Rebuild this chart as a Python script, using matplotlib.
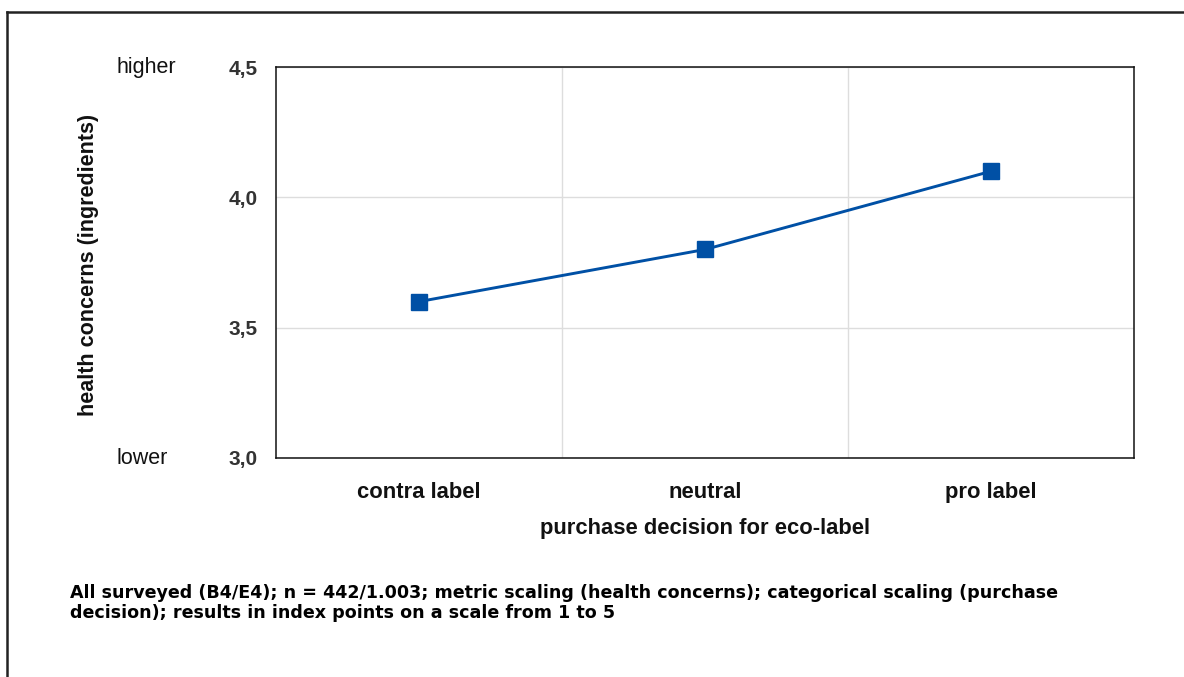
import matplotlib
matplotlib.use("Agg")
import matplotlib.pyplot as plt
from matplotlib.lines import Line2D

# data
categories = ["contra label", "neutral", "pro label"]
health_concerns = [3.6, 3.8, 4.1]
y_ticks = [3.0, 3.5, 4.0, 4.5]
y_tick_labels = ["3,0", "3,5", "4,0", "4,5"]

plt.rcParams['font.family'] = ['Liberation Sans', 'DejaVu Sans']

fig = plt.figure(figsize=(11.84, 6.77), dpi=100)
ax = fig.add_axes([0.2331, 0.3235, 0.7247, 0.5775])

x = list(range(len(categories)))
ax.plot(x, health_concerns, color='#0050A5', linewidth=2.1,
        marker='s', markersize=11.5, markerfacecolor='#0050A5',
        markeredgecolor='#0050A5', zorder=3)

ax.set_xlim(-0.5, len(categories) - 0.5)
ax.set_ylim(3.0, 4.5)
ax.set_yticks(y_ticks)
ax.set_yticklabels(y_tick_labels, fontsize=15, fontweight='bold', color='#333333')
ax.set_xticks(x)
ax.set_xticklabels(categories, fontsize=15.8, fontweight='bold', color='#111111')
ax.tick_params(axis='both', length=0)
ax.tick_params(axis='y', pad=13)
ax.tick_params(axis='x', pad=17)

# grid: horizontal at ticks, vertical between categories
ax.set_xticks([0.5, 1.5], minor=True)
ax.grid(True, axis='y', which='major', color='#DDDDDD', linewidth=1)
ax.grid(True, axis='x', which='minor', color='#DDDDDD', linewidth=1)
ax.grid(False, axis='x', which='major')
ax.tick_params(axis='x', which='minor', length=0)
ax.set_axisbelow(True)

for s in ax.spines.values():
    s.set_color('#111111')
    s.set_linewidth(1.1)

ax.set_xlabel("purchase decision for eco-label", fontsize=15.8, fontweight='bold',
              labelpad=11, color='#111111')
fig.text(0.0745, 0.6085, "health concerns (ingredients)", rotation=90,
         fontsize=15.5, fontweight='bold', ha='center', va='center', color='#111111')

fig.text(0.098, 1 - 67 / 677, "higher", fontsize=15.5, ha='left', va='center', color='#111111')
fig.text(0.098, 1 - 459 / 677, "lower", fontsize=15.5, ha='left', va='center', color='#111111')

fig.text(0.059, 1 - 603 / 677,
         "All surveyed (B4/E4); n = 442/1.003; metric scaling (health concerns); categorical scaling (purchase\n"
         "decision); results in index points on a scale from 1 to 5",
         fontsize=12.6, fontweight='bold', family='DejaVu Sans', ha='left', va='center',
         linespacing=1.1, color='black')

# frame around the figure (only left and top visible)
fig.add_artist(Line2D([7 / 1184, 7 / 1184], [0, 1 - 12 / 677], transform=fig.transFigure,
                      color='#222222', linewidth=1.8))
fig.add_artist(Line2D([7 / 1184, 1], [1 - 12 / 677, 1 - 12 / 677], transform=fig.transFigure,
                      color='#222222', linewidth=1.8))

fig.savefig("out.png", dpi=100)
